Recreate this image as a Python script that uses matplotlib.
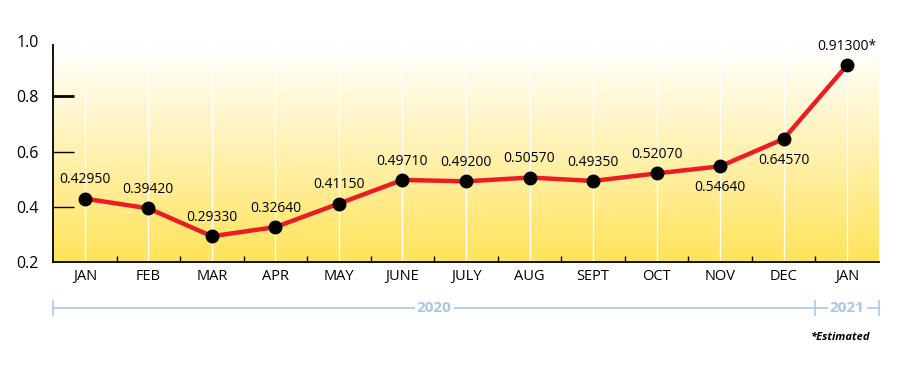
import numpy as np
import matplotlib
matplotlib.use("Agg")
import matplotlib.pyplot as plt
from matplotlib.colors import LinearSegmentedColormap
from matplotlib.transforms import blended_transform_factory

months = ["JAN", "FEB", "MAR", "APR", "MAY", "JUNE", "JULY", "AUG",
          "SEPT", "OCT", "NOV", "DEC", "JAN"]
values = [0.42950, 0.39420, 0.29330, 0.32640, 0.41150, 0.49710, 0.49200,
          0.50570, 0.49350, 0.52070, 0.54640, 0.64570, 0.91300]
labels = ["0.42950", "0.39420", "0.29330", "0.32640", "0.41150", "0.49710",
          "0.49200", "0.50570", "0.49350", "0.52070", "0.54640", "0.64570",
          "0.91300*"]
below = [False] * 10 + [True, True, False]
y_ticks = [0.2, 0.4, 0.6, 0.8, 1.0]

plt.rcParams["font.family"] = ["Open Sans", "DejaVu Sans"]

fig = plt.figure(figsize=(9, 3.71), dpi=100)
ax = fig.add_axes([53 / 900, 1 - 262 / 371, 826 / 900, 221 / 371])

x = np.arange(len(months))
ymin, ytop = 0.2, 0.985

# yellow-to-white gradient background
cmap = LinearSegmentedColormap.from_list("yel", ["#FFE35A", "#FFF1B0", "#FFFFFF"])
grad = np.linspace(0, 1, 256).reshape(-1, 1)
ax.imshow(grad, extent=[-0.5, 12.5, ymin, ytop], origin="lower", aspect="auto",
          cmap=cmap, zorder=0)
for xi in x:
    ax.plot([xi, xi], [ymin, ytop], color="white", lw=1, zorder=1)

ax.plot(x, values, color="#EC1C24", lw=3.2, zorder=3, solid_capstyle="round")
ax.plot(x, values, "o", color="black", ms=9, zorder=4)

for xi, v, lab, b in zip(x, values, labels, below):
    if b:
        ax.annotate(lab, (xi, v), xytext=(0, -10), textcoords="offset points",
                    ha="center", va="top", fontsize=10, zorder=5)
    else:
        ax.annotate(lab, (xi, v), xytext=(0, 8), textcoords="offset points",
                    ha="center", va="bottom", fontsize=10, zorder=5)

ax.set_xlim(-0.5, 12.5)
ax.set_ylim(0.2, 1.0)
ax.set_facecolor("white")
for s in ["top", "right"]:
    ax.spines[s].set_visible(False)
ax.spines["left"].set_bounds(ymin, ytop)
ax.spines["left"].set_linewidth(1.3)
ax.spines["bottom"].set_linewidth(1.3)

ax.set_xticks(x)
ax.set_xticklabels(months, fontsize=10.5)
ax.tick_params(axis="x", which="major", length=0, pad=5)
ax.set_xticks(np.arange(0.5, 12, 1), minor=True)
ax.tick_params(axis="x", which="minor", direction="in", length=4, width=1)

ax.set_yticks(y_ticks)
ax.set_yticklabels([f"{t:.1f}" for t in y_ticks], fontsize=11.5)
ax.tick_params(axis="y", direction="in", length=15, width=1, pad=10)
ticks = ax.yaxis.get_major_ticks()
ticks[0].tick1line.set_visible(False)
ticks[-1].tick1line.set_visible(False)
ticks[3].tick1line.set_markeredgewidth(2)

# year brackets below the axis
trans = blended_transform_factory(ax.transData, ax.transAxes)
yb = -0.208
blue = "#A8C8E8"
ax.plot([-0.5, 12.5], [yb, yb], color=blue, lw=1.2, transform=trans, clip_on=False)
for xb in [-0.5, 11.5, 12.5]:
    ax.plot([xb, xb], [yb - 0.03, yb + 0.03], color=blue, lw=1.2,
            transform=trans, clip_on=False)
for xt, yr in [(5.5, "2020"), (12.0, "2021")]:
    ax.text(xt, yb, yr, transform=trans, ha="center", va="center", fontsize=11,
            fontweight="bold", color=blue,
            bbox=dict(facecolor="white", edgecolor="none", pad=1.5))

fig.text(870 / 900, 1 - 337 / 371, "*Estimated", ha="right", va="center",
         fontsize=8, fontweight="bold", fontstyle="italic")

fig.savefig("out.png", dpi=100)
